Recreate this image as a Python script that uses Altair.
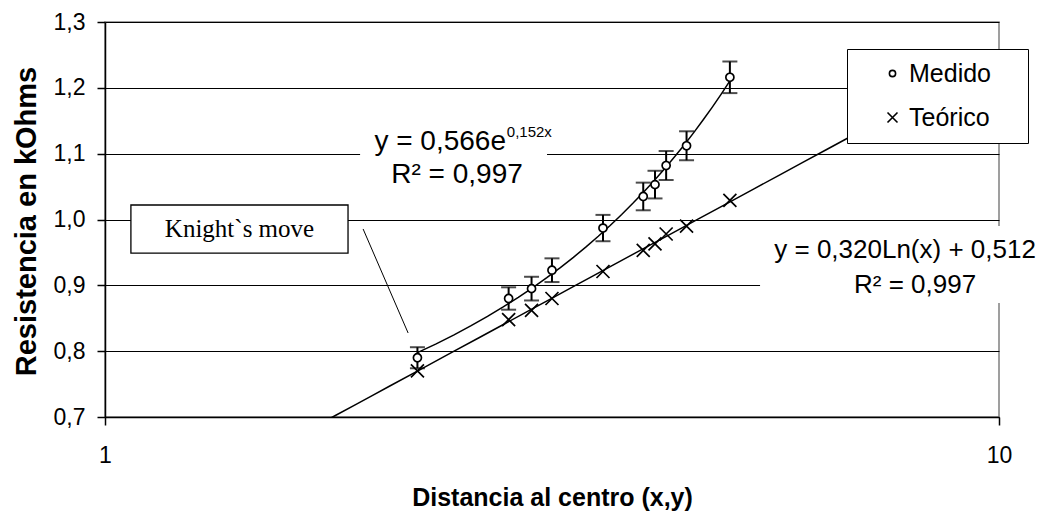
import altair as alt
import pandas as pd

# ---------------- data ----------------
distancia = [2.236, 2.828, 3.0, 3.162, 3.606, 4.0, 4.123, 4.243, 4.472, 5.0]
medido = [0.790, 0.880, 0.895, 0.923, 0.987, 1.035, 1.053, 1.082, 1.112, 1.216]
error_medido = [0.016, 0.017, 0.018, 0.018, 0.020, 0.021, 0.021, 0.022, 0.022, 0.024]
teorico = [0.770, 0.848, 0.862, 0.880, 0.921, 0.953, 0.963, 0.978, 0.990, 1.029]
series = ["Medido", "Teórico"]
y_ticks = [0.7, 0.8, 0.9, 1.0, 1.1, 1.2, 1.3]
x_ticks = [1, 10]
x_domain = [1, 10]
y_domain = [0.7, 1.3]
trend_extent_teorico = [1, 10]

eq_medido = ["y = 0,566e", "0,152x", "R² = 0,997"]
eq_teorico = ["y = 0,320Ln(x) + 0,512", "R² = 0,997"]
nota = "Knight`s move"
x_title = "Distancia al centro (x,y)"
y_title = "Resistencia en kOhms"

# ---------------- annotation anchors (data coordinates) ----------------
eq1_main_pos = (2.809, 1.1056)
eq1_sup_pos = (2.815, 1.1253)
eq1_r2_pos = (2.476, 1.0554)
eq2_line_pos = (7.851, 0.9415)
eq2_r2_pos = (8.056, 0.8884)
eq_bg_x1 = [1.929, 5.404]
eq_bg_x2 = [3.122, 11.11]
eq_bg_y1 = [1.186, 0.990]
eq_bg_y2 = [1.040, 0.873]
note_box = (1.069, 1.870, 1.022, 0.949)
note_text_pos = (1.414, 0.9856)
leader = (1.944, 0.9856, 2.183, 0.8276)

FONT = "Liberation Sans"

meas_df = pd.DataFrame({"x": distancia, "y": medido, "err": error_medido})
meas_df["lo"] = meas_df["y"] - meas_df["err"]
meas_df["hi"] = meas_df["y"] + meas_df["err"]
meas_df["serie"] = series[0]
teo_df = pd.DataFrame({"x": distancia, "y": teorico, "serie": series[1]})
pts_df = pd.concat([meas_df[["x", "y", "serie"]], teo_df], ignore_index=True)

xs = alt.Scale(type="log", domain=x_domain)
ys = alt.Scale(domain=y_domain, zero=False, nice=False)

x_axis = alt.Axis(
    values=x_ticks, labelExpr="format(datum.value, 'd')", grid=False,
    tickSize=8, tickWidth=1.5, tickColor="black", domainColor="black", domainWidth=1.5,
    labelPadding=19, labelFontSize=23, labelFont=FONT, labelColor="black", labelFlush=False,
    title=x_title, titleFont=FONT, titleFontSize=25, titleFontWeight="bold", titleColor="black",
    titleX=447, titleY=88, titleBaseline="alphabetic", titleAlign="center",
)
y_axis = alt.Axis(
    values=y_ticks, labelExpr="replace(format(datum.value, '.1f'), '.', ',')",
    grid=True, gridColor="black", gridWidth=1, gridOpacity=1,
    tickSize=8, tickWidth=1.5, tickColor="black", domainColor="black", domainWidth=1.5,
    labelPadding=12, labelFontSize=23, labelFont=FONT, labelColor="black",
    title=y_title, titleFont=FONT, titleFontSize=29, titleFontWeight="bold", titleColor="black",
    titleX=-70, titleY=199, titleAngle=270, titleBaseline="alphabetic", titleAlign="center",
)


def X(f="x"):
    return alt.X(f"{f}:Q", scale=xs, axis=x_axis)


def Y(f="y"):
    return alt.Y(f"{f}:Q", scale=ys, axis=y_axis)


def circle_path(c):
    return f"M{-c},0A{c},{c},0,1,1,{c},0A{c},{c},0,1,1,{-c},0Z"


CIRCLE = circle_path(0.62)
CROSS = "M-1,-1L1,1M-1,1L1,-1"

legend = alt.Legend(
    orient="none", legendX=742, legendY=27,
    title="\u00a0", titleOrient="right", titleFontSize=8, titlePadding=25,
    padding=12, rowPadding=18, symbolOffset=21, labelOffset=4,
    labelFont=FONT, labelFontSize=25, labelColor="black",
    symbolSize=100, symbolStrokeColor="black", symbolStrokeWidth=1.6,
    symbolOpacity=1,
    strokeColor="black", fillColor="white",
)

bg_df = pd.DataFrame({"x": eq_bg_x1, "x2": eq_bg_x2, "y": eq_bg_y1, "y2": eq_bg_y2})
bg = alt.Chart(bg_df).mark_rect(fill="white", strokeWidth=0).encode(
    x=X(), x2="x2:Q", y=Y(), y2="y2:Q")

nb_df = pd.DataFrame({"x": [note_box[0]], "x2": [note_box[1]], "y": [note_box[2]], "y2": [note_box[3]]})
note_rect = alt.Chart(nb_df).mark_rect(fill="white", stroke="black", strokeWidth=1.3).encode(
    x=X(), x2="x2:Q", y=Y(), y2="y2:Q")

trend_teo = alt.Chart(teo_df).transform_regression(
    "x", "y", method="log", extent=trend_extent_teorico
).mark_line(color="black", strokeWidth=1.5, clip=True).encode(x=X(), y=Y())

trend_med = alt.Chart(meas_df).transform_regression(
    "x", "y", method="exp"
).mark_line(color="black", strokeWidth=1.5, clip=True).encode(x=X(), y=Y())

errbars = alt.Chart(meas_df).mark_rule(color="black", strokeWidth=2).encode(
    x=X(), y=Y("lo"), y2="hi:Q")
caps = alt.Chart(meas_df).transform_fold(["lo", "hi"], as_=["k", "v"]).mark_tick(
    orient="horizontal", size=15, thickness=2, color="black").encode(x=X(), y=Y("v"))

# white interior of the measured circles (hides the error bar behind them)
point_fill = alt.Chart(meas_df).mark_point(
    shape=CIRCLE, size=169, filled=True, color="white", opacity=1
).encode(x=X(), y=Y())

points = alt.Chart(pts_df).mark_point(
    size=169, filled=False, color="black", strokeWidth=1.7, opacity=1
).encode(
    x=X(), y=Y(),
    shape=alt.Shape("serie:N", scale=alt.Scale(domain=series, range=[CIRCLE, CROSS]),
                    legend=legend),
)


def text_layer(xv, yv, txt, align, size, font=FONT, baseline="alphabetic"):
    df = pd.DataFrame({"x": [xv], "y": [yv], "t": [txt]})
    return alt.Chart(df).mark_text(align=align, baseline=baseline, font=font, fontSize=size,
                                   color="black").encode(x=X(), y=Y(), text="t:N")


t1 = text_layer(eq1_main_pos[0], eq1_main_pos[1], eq_medido[0], "right", 28)
t2 = text_layer(eq1_sup_pos[0], eq1_sup_pos[1], eq_medido[1], "left", 15)
t3 = text_layer(eq1_r2_pos[0], eq1_r2_pos[1], eq_medido[2], "center", 28)
t4 = text_layer(eq2_line_pos[0], eq2_line_pos[1], eq_teorico[0], "center", 26)
t5 = text_layer(eq2_r2_pos[0], eq2_r2_pos[1], eq_teorico[1], "center", 26)
t6 = text_layer(note_text_pos[0], note_text_pos[1], nota, "center", 25,
                font="Liberation Serif", baseline="middle")

ld_df = pd.DataFrame({"x": [leader[0]], "y": [leader[1]], "x2": [leader[2]], "y2": [leader[3]]})
lead = alt.Chart(ld_df).mark_rule(color="black", strokeWidth=1).encode(
    x=X(), y=Y(), x2="x2:Q", y2="y2:Q")

chart = alt.layer(
    bg, note_rect, trend_teo, trend_med, errbars, caps, point_fill, points,
    t1, t2, t3, t4, t5, t6, lead
).properties(
    width=894, height=395,
    autosize=alt.AutoSizeParams(type="none"),
    padding={"left": 97, "top": 14, "right": 41, "bottom": 94},
    background="white",
).configure_view(stroke="#808080", strokeWidth=1.5)

chart.save("out.html", embed_options={"renderer": "svg", "actions": False})
